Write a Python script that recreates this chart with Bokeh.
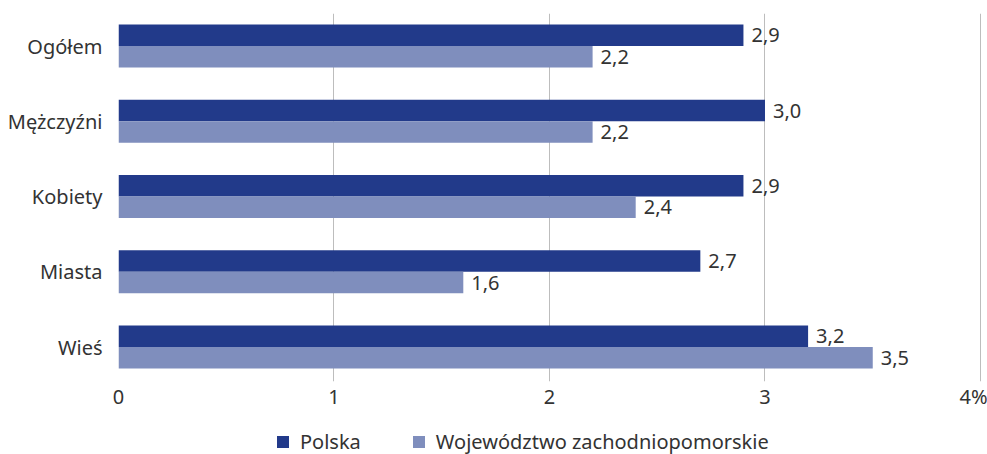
from bokeh.plotting import figure
from bokeh.models import ColumnDataSource, Legend, LegendItem, FixedTicker, Range1d
from bokeh.layouts import column
from bokeh.embed import file_html
from bokeh.resources import INLINE
from bokeh.core.properties import value

categories = ["Ogółem", "Mężczyźni", "Kobiety", "Miasta", "Wieś"]
polska = [2.9, 3.0, 2.9, 2.7, 3.2]
zachodniopomorskie = [2.2, 2.2, 2.4, 1.6, 3.5]
series_names = ["Polska", "Województwo zachodniopomorskie"]
x_ticks = [0, 1, 2, 3, 4]
x_tick_labels = ["0", "1", "2", "3", "4%"]

DARK = "#223a8a"
LIGHT = "#7f8ebd"
TEXT = "#333333"
FONT = "Noto Sans"
FS = "20px"

n = len(categories)
pos = [n - 1 - i for i in range(n)]
bar_h = 0.286

def fmt(v):
    return f"{v:.1f}".replace(".", ",")

src_pl = ColumnDataSource(dict(y=[p + bar_h / 2 for p in pos], v=polska, lab=[fmt(v) for v in polska]))
src_zp = ColumnDataSource(dict(y=[p - bar_h / 2 for p in pos], v=zachodniopomorskie, lab=[fmt(v) for v in zachodniopomorskie]))

p = figure(width=987, height=416, output_backend="svg", toolbar_location=None,
           x_range=Range1d(0, 4.0325), y_range=Range1d(-0.458, 4.432),
           min_border_left=118, min_border_top=13, min_border_right=0, min_border_bottom=35)
p.outline_line_color = None

p.hbar(y="y", right="v", left=0, height=bar_h, source=src_pl, fill_color=DARK, line_color=None)
p.hbar(y="y", right="v", left=0, height=bar_h, source=src_zp, fill_color=LIGHT, line_color=None)

for src in (src_pl, src_zp):
    p.text(x="v", y="y", text="lab", source=src, x_offset=8, text_baseline="middle", text_align="left",
           text_font=value(FONT), text_font_size=FS, text_color=TEXT)

p.xaxis.ticker = FixedTicker(ticks=x_ticks)
p.xaxis.major_label_overrides = {t: l for t, l in zip(x_ticks, x_tick_labels)}
p.xaxis.axis_line_color = None
p.xaxis.major_tick_line_color = None
p.xaxis.major_tick_out = 0
p.xaxis.major_tick_in = 0
p.xaxis.minor_tick_line_color = None
p.xaxis.major_label_standoff = 1
p.xaxis.major_label_text_font = FONT
p.xaxis.major_label_text_font_size = FS
p.xaxis.major_label_text_color = TEXT

p.yaxis.ticker = FixedTicker(ticks=pos)
p.yaxis.major_label_overrides = {pp: c for pp, c in zip(pos, categories)}
p.yaxis.axis_line_color = None
p.yaxis.major_tick_line_color = None
p.yaxis.major_tick_out = 0
p.yaxis.major_tick_in = 0
p.yaxis.minor_tick_line_color = None
p.yaxis.major_label_standoff = 16
p.yaxis.major_label_text_font = FONT
p.yaxis.major_label_text_font_size = FS
p.yaxis.major_label_text_color = TEXT

p.xgrid.ticker = FixedTicker(ticks=x_ticks)
p.xgrid.grid_line_color = "#bdbdbd"
p.xgrid.grid_line_width = 1
p.ygrid.grid_line_color = None

# legend strip (series drawn out of view, only used for legend swatches)
lf = figure(width=987, height=38, output_backend="svg", toolbar_location=None,
            x_range=Range1d(0, 4.0325), y_range=Range1d(100, 101),
            x_axis_location=None, y_axis_location=None,
            min_border_left=118, min_border_right=0, min_border_top=0, min_border_bottom=0)
lf.outline_line_color = None
lf.xgrid.grid_line_color = None
lf.ygrid.grid_line_color = None
l1 = lf.hbar(y="y", right="v", left=0, height=bar_h, source=src_pl, fill_color=DARK, line_color=None)
l2 = lf.hbar(y="y", right="v", left=0, height=bar_h, source=src_zp, fill_color=LIGHT, line_color=None)

legend = Legend(items=[LegendItem(label=series_names[0], renderers=[l1], index=0),
                       LegendItem(label=series_names[1], renderers=[l2], index=0)],
                orientation="horizontal", location=(157, -1),
                glyph_width=15, glyph_height=15, label_standoff=10, spacing=50, label_height=22,
                padding=0, margin=0, border_line_color=None, background_fill_alpha=0,
                label_text_font=FONT, label_text_font_size=FS, label_text_color=TEXT)
lf.add_layout(legend, "center")

open("out.html", "w").write(file_html(column(p, lf, spacing=0), INLINE))
